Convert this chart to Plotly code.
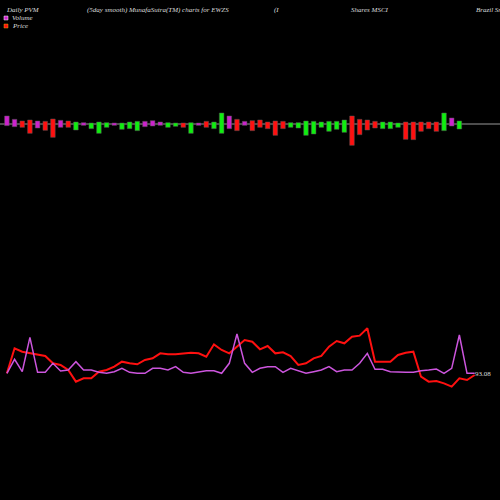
import plotly.graph_objects as go

# volume bars: colour, top and bottom (reading units above/below the baseline)
bar_colors = ["m", "m", "r", "r", "m", "r", "r", "m", "r", "g", "m", "g", "g", "g", "m", "g", "g", "g",
              "m", "m", "m", "g", "g", "r", "g", "m", "r", "g", "g", "m", "r", "m", "r", "r", "r", "r",
              "r", "g", "g", "g", "g", "g", "g", "g", "g", "r", "r", "r", "r", "g", "g", "g", "r", "r",
              "r", "r", "r", "g", "m", "g"]
bar_top = [34, 44, 49, 46, 49, 50, 43, 47, 49, 52, 54, 55, 52, 54, 55, 55, 52, 50, 50, 48, 52, 54, 55, 55,
           54, 55, 50, 52, 25, 34, 44, 50, 48, 46, 52, 49, 50, 54, 54, 49, 50, 52, 50, 50, 46, 34, 44, 46,
           50, 52, 52, 55, 52, 52, 52, 52, 52, 25, 40, 49]
bar_bot = [63, 66, 68, 86, 70, 77, 98, 68, 68, 76, 62, 72, 86, 68, 62, 74, 72, 78, 66, 64, 62, 68, 65, 68,
           86, 62, 68, 72, 86, 72, 78, 62, 78, 68, 72, 92, 72, 68, 70, 92, 88, 68, 80, 74, 83, 122, 90, 76,
           70, 72, 72, 68, 104, 105, 80, 72, 80, 78, 64, 73]

# price lines (reading units, larger = lower on screen)
price_red = [160, 85, 95, 100, 105, 108, 130, 135, 150, 185, 175, 175, 155, 150, 140, 125, 130, 133, 120,
             115, 100, 103, 103, 100, 98, 100, 110, 73, 90, 100, 80, 60, 65, 88, 78, 100, 97, 108, 135, 130,
             115, 108, 80, 63, 70, 50, 47, 25, 125, 125, 125, 105, 98, 95, 170, 185, 183, 190, 200, 175,
             180, 165]
price_mag = [160, 118, 155, 52, 157, 157, 130, 153, 150, 125, 150, 150, 157, 160, 155, 145, 157, 160, 160,
             145, 145, 150, 140, 157, 160, 157, 152, 152, 160, 130, 42, 130, 157, 145, 140, 140, 157, 145,
             152, 160, 155, 150, 140, 155, 150, 150, 130, 100, 148, 148, 155, 157, 157, 157, 152, 150, 147,
             160, 145, 45, 160, 160]

cmap = {"m": "#cc22cc", "r": "#ff1010", "g": "#10ee10"}
bx = list(range(len(bar_top)))
up = [(58 - t) / 3 for t in bar_top]
dn = [(58 - b) / 3 for b in bar_bot]

fig = go.Figure()
fig.add_trace(go.Bar(x=bx, y=[u - d for u, d in zip(up, dn)], base=dn,
                     marker=dict(color=[cmap[c] for c in bar_colors], line=dict(color="#555", width=0.5)),
                     width=0.6, yaxis="y"))
lx = list(range(len(price_red)))
fig.add_trace(go.Scatter(x=lx, y=price_red, mode="lines", line=dict(color="#ff1010", width=2), yaxis="y2"))
fig.add_trace(go.Scatter(x=lx, y=price_mag, mode="lines", line=dict(color="#cc55dd", width=1.5), yaxis="y2"))

fnt = dict(family="Liberation Serif", size=7, color="#dddddd")
texts = [(4, 10, "<i>Daily PVM</i>"), (85, 10, "<i>(5day smooth) MunafaSutra(TM) charts for EWZS</i>"),
         (272, 10, "<i>(I</i>"), (349, 10, "<i>Shares MSCI</i>"), (474, 10, "<i>Brazil Sm</i>"),
         (10, 18, "<i>Volume</i>"), (10, 26, "<i>Price</i>"), (473, 374, "93.08")]
ann = [dict(x=x / 500, y=1 - y / 500, xref="paper", yref="paper", text=t, showarrow=False,
            xanchor="left", yanchor="middle", font=fnt) for x, y, t in texts]
fig.update_layout(
    width=500, height=500, margin=dict(l=0, r=0, t=0, b=0),
    paper_bgcolor="black", plot_bgcolor="black", showlegend=False,
    xaxis=dict(range=[-0.9, 64.3], visible=False),
    yaxis=dict(range=[-376, 124], visible=False),
    yaxis2=dict(range=[540, -960], overlaying="y", visible=False),
    annotations=ann,
    shapes=[dict(type="line", xref="paper", yref="paper", x0=0, x1=1, y0=1 - 124 / 500, y1=1 - 124 / 500,
                 line=dict(color="#999", width=1), layer="below"),
            dict(type="rect", xref="paper", yref="paper", x0=4 / 500, x1=8 / 500, y0=1 - 16 / 500,
                 y1=1 - 20 / 500, fillcolor="#cc22cc", line=dict(color="#fff", width=0.5)),
            dict(type="rect", xref="paper", yref="paper", x0=4 / 500, x1=8 / 500, y0=1 - 24 / 500,
                 y1=1 - 28 / 500, fillcolor="#ff1010", line=dict(color="#ddaa00", width=0.5))],
)
fig.write_html("out.html", config={"displayModeBar": False},
               post_script="document.body.style.margin='0';")
